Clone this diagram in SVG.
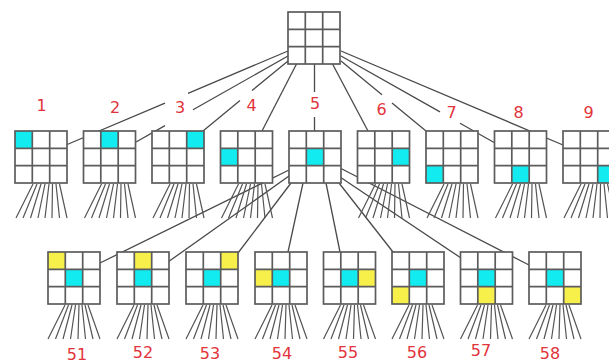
<svg xmlns="http://www.w3.org/2000/svg" xmlns:xlink="http://www.w3.org/1999/xlink" width="609" height="362" viewBox="0 0 609 362">
<style>
.bg{fill:#fff}
.gl{fill:none;stroke:#5c5c5c;stroke-width:1.7}
.cy{fill:#12ecf0}
.ye{fill:#f7f04a}
.cn{fill:none;stroke:#4a4a4a;stroke-width:1.3}
.fan{fill:none;stroke:#555;stroke-width:1.2}
.lb{font-family:"DejaVu Sans",Verdana,sans-serif;font-size:16px;fill:#e2333b;text-anchor:middle}
</style>
<defs>
<g id="grid"><rect class="gl" x="0" y="0" width="52" height="52"/><path class="gl" d="M17.3,0V52M34.7,0V52M0,17.3H52M0,34.7H52"/></g>
<path id="fan1" class="fan" d="M18,53L1,87M22,53L8,87M26,53L15.5,87M30,53L23,87M34,53L30,87M37.5,53L37,87M41,53L44.5,87M44.5,53L52,87"/>
<path id="fan2" class="fan" d="M17,53L0,87M20.5,53L7.5,87M24,53L15,87M27.5,53L22.5,87M31,53L30,87M34,53L37.5,87M37,53L45,87M40,53L52,87"/>
</defs>
<g id="connectors">
<path class="cn" d="M288,51L188,93.3M165,103.1L66,145"/>
<path class="cn" d="M288,56L193,109.8M165,125.6L136,142"/>
<path class="cn" d="M288,61L252,90.6M240,100.5L203,131"/>
<path class="cn" d="M297,63L262,131"/>
<path class="cn" d="M314.5,63V92M314.5,117V131"/>
<path class="cn" d="M332,63L368,131"/>
<path class="cn" d="M341,61L382,94.8M392,103L426,131"/>
<path class="cn" d="M341,56L440,111.9M460,123.2L495,143"/>
<path class="cn" d="M341,51L563,145"/>
<path class="cn" d="M289,170L100,263"/>
<path class="cn" d="M289,176L168,262"/>
<path class="cn" d="M291,183L238,253"/>
<path class="cn" d="M303,183L288,252"/>
<path class="cn" d="M326,183L340,252"/>
<path class="cn" d="M339,183L393,252"/>
<path class="cn" d="M340,177L461,258"/>
<path class="cn" d="M340,168L529,265"/>
<g id="fans">
<use xlink:href="#fan1" transform="translate(15,131)"/>
<use xlink:href="#fan1" transform="translate(83.5,131)"/>
<use xlink:href="#fan1" transform="translate(152,131)"/>
<use xlink:href="#fan1" transform="translate(220.5,131)"/>
<use xlink:href="#fan1" transform="translate(357.5,131)"/>
<use xlink:href="#fan1" transform="translate(426,131)"/>
<use xlink:href="#fan1" transform="translate(494.5,131)"/>
<use xlink:href="#fan1" transform="translate(563,131)"/>
<use xlink:href="#fan2" transform="translate(48,252)"/>
<use xlink:href="#fan2" transform="translate(117,252)"/>
<use xlink:href="#fan2" transform="translate(186,252)"/>
<use xlink:href="#fan2" transform="translate(255,252)"/>
<use xlink:href="#fan2" transform="translate(323.5,252)"/>
<use xlink:href="#fan2" transform="translate(392,252)"/>
<use xlink:href="#fan2" transform="translate(460.5,252)"/>
<use xlink:href="#fan2" transform="translate(529,252)"/>
</g>
</g>
<g id="root" transform="translate(288,12)"><rect class="bg" width="52" height="52"/><use xlink:href="#grid"/></g>
<g id="n1" transform="translate(15,131)"><rect class="bg" width="52" height="52"/><rect class="cy" x="0" y="0" width="17.3" height="17.3"/><use xlink:href="#grid"/></g>
<g id="n2" transform="translate(83.5,131)"><rect class="bg" width="52" height="52"/><rect class="cy" x="17.3" y="0" width="17.4" height="17.3"/><use xlink:href="#grid"/></g>
<g id="n3" transform="translate(152,131)"><rect class="bg" width="52" height="52"/><rect class="cy" x="34.7" y="0" width="17.3" height="17.3"/><use xlink:href="#grid"/></g>
<g id="n4" transform="translate(220.5,131)"><rect class="bg" width="52" height="52"/><rect class="cy" x="0" y="17.3" width="17.3" height="17.4"/><use xlink:href="#grid"/></g>
<g id="n5" transform="translate(289,131)"><rect class="bg" width="52" height="52"/><rect class="cy" x="17.3" y="17.3" width="17.4" height="17.4"/><use xlink:href="#grid"/></g>
<g id="n6" transform="translate(357.5,131)"><rect class="bg" width="52" height="52"/><rect class="cy" x="34.7" y="17.3" width="17.3" height="17.4"/><use xlink:href="#grid"/></g>
<g id="n7" transform="translate(426,131)"><rect class="bg" width="52" height="52"/><rect class="cy" x="0" y="34.7" width="17.3" height="17.3"/><use xlink:href="#grid"/></g>
<g id="n8" transform="translate(494.5,131)"><rect class="bg" width="52" height="52"/><rect class="cy" x="17.3" y="34.7" width="17.4" height="17.3"/><use xlink:href="#grid"/></g>
<g id="n9" transform="translate(563,131)"><rect class="bg" width="52" height="52"/><rect class="cy" x="34.7" y="34.7" width="17.3" height="17.3"/><use xlink:href="#grid"/></g>
<g id="n51" transform="translate(48,252)"><rect class="bg" width="52" height="52"/><rect class="cy" x="17.3" y="17.3" width="17.4" height="17.4"/><rect class="ye" x="0" y="0" width="17.3" height="17.3"/><use xlink:href="#grid"/></g>
<g id="n52" transform="translate(117,252)"><rect class="bg" width="52" height="52"/><rect class="cy" x="17.3" y="17.3" width="17.4" height="17.4"/><rect class="ye" x="17.3" y="0" width="17.4" height="17.3"/><use xlink:href="#grid"/></g>
<g id="n53" transform="translate(186,252)"><rect class="bg" width="52" height="52"/><rect class="cy" x="17.3" y="17.3" width="17.4" height="17.4"/><rect class="ye" x="34.7" y="0" width="17.3" height="17.3"/><use xlink:href="#grid"/></g>
<g id="n54" transform="translate(255,252)"><rect class="bg" width="52" height="52"/><rect class="cy" x="17.3" y="17.3" width="17.4" height="17.4"/><rect class="ye" x="0" y="17.3" width="17.3" height="17.4"/><use xlink:href="#grid"/></g>
<g id="n55" transform="translate(323.5,252)"><rect class="bg" width="52" height="52"/><rect class="cy" x="17.3" y="17.3" width="17.4" height="17.4"/><rect class="ye" x="34.7" y="17.3" width="17.3" height="17.4"/><use xlink:href="#grid"/></g>
<g id="n56" transform="translate(392,252)"><rect class="bg" width="52" height="52"/><rect class="cy" x="17.3" y="17.3" width="17.4" height="17.4"/><rect class="ye" x="0" y="34.7" width="17.3" height="17.3"/><use xlink:href="#grid"/></g>
<g id="n57" transform="translate(460.5,252)"><rect class="bg" width="52" height="52"/><rect class="cy" x="17.3" y="17.3" width="17.4" height="17.4"/><rect class="ye" x="17.3" y="34.7" width="17.4" height="17.3"/><use xlink:href="#grid"/></g>
<g id="n58" transform="translate(529,252)"><rect class="bg" width="52" height="52"/><rect class="cy" x="17.3" y="17.3" width="17.4" height="17.4"/><rect class="ye" x="34.7" y="34.7" width="17.3" height="17.3"/><use xlink:href="#grid"/></g>
<g id="labels">
<text class="lb" x="41.5" y="111">1</text>
<text class="lb" x="115" y="113">2</text>
<text class="lb" x="180" y="112.5">3</text>
<text class="lb" x="251.5" y="110.5">4</text>
<text class="lb" x="315" y="108.5">5</text>
<text class="lb" x="381.5" y="114.5">6</text>
<text class="lb" x="451.5" y="118">7</text>
<text class="lb" x="518.5" y="117.5">8</text>
<text class="lb" x="588.5" y="117.5">9</text>
<text class="lb" x="77" y="359.5">51</text>
<text class="lb" x="143" y="358">52</text>
<text class="lb" x="210" y="359">53</text>
<text class="lb" x="282" y="359">54</text>
<text class="lb" x="348" y="358">55</text>
<text class="lb" x="417" y="358">56</text>
<text class="lb" x="481" y="355.5">57</text>
<text class="lb" x="550" y="358.5">58</text>
</g>
</svg>
